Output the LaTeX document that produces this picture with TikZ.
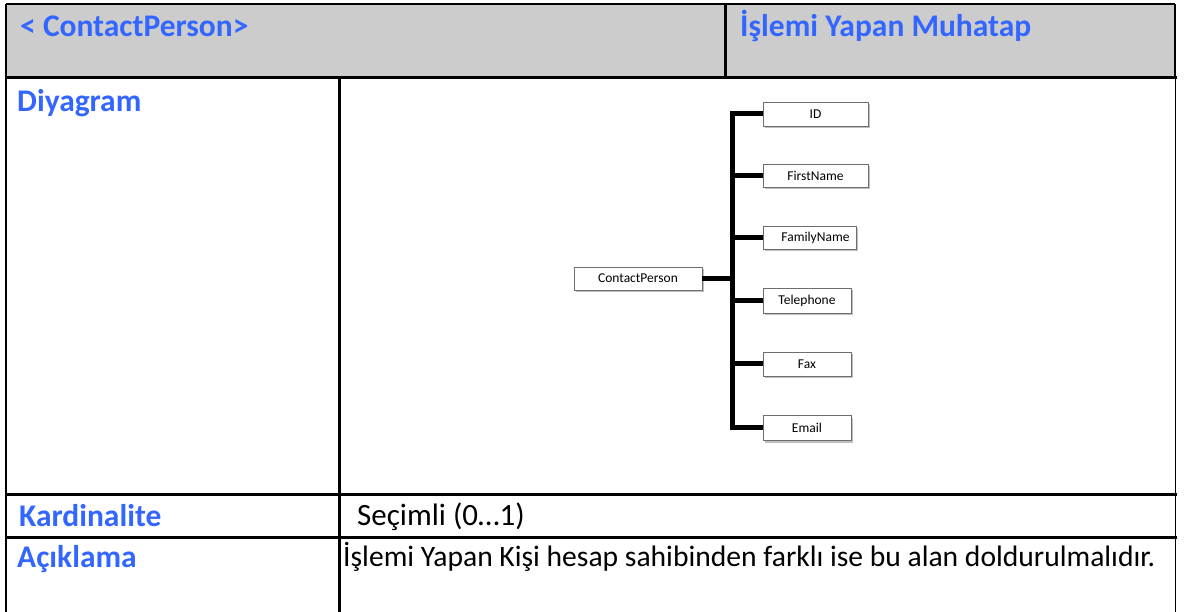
\documentclass[tikz,border=0pt]{standalone}
\usepackage{fontspec}
\setmainfont{Carlito}
\usetikzlibrary{shadows}
\definecolor{hdrgray}{RGB}{204,204,204}
\definecolor{lblblue}{RGB}{51,102,255}
\definecolor{boxline}{RGB}{110,110,110}
\tikzset{
  lbl/.style={anchor=base west, inner sep=0pt, text=lblblue, font=\fontsize{31.5}{36}\selectfont\bfseries},
  val/.style={anchor=base west, inner sep=0pt, text=black, font=\fontsize{31}{36}\selectfont},
  grid/.style={line width=3pt, line cap=rect},
  ebox/.style={draw=boxline, line width=0.8pt, fill=white, inner sep=0pt,
    font=\fontsize{13.5}{16}\selectfont,
    drop shadow={shadow xshift=1.5pt, shadow yshift=-2.5pt, fill=black, opacity=0.25}},
  bus/.style={line width=5pt, line join=miter}
}
\begin{document}
\begin{tikzpicture}[x=1pt,y=-1pt]
\useasboundingbox (0,0) rectangle (1184,612);
% header
\fill[hdrgray] (6,4) rectangle (1175,78);
\draw[line width=1.8pt] (6,4) -- (1175,4);
\draw[line width=1.8pt] (1175,4) -- (1175,78);
\draw[line width=3pt] (725,4) -- (725,78);
\draw[grid] (6,78) -- (1175,78);
% body
\draw[line width=2pt] (6,4) -- (6,612);
\draw[line width=3pt] (339,78) -- (339,612);
\draw[line width=1pt] (1175,78) -- (1175,612);
\draw[grid] (6,494) -- (1175,494);
\draw[grid] (6,537) -- (1175,537);
% texts
\node[lbl] (h1) at (20,37) {< ContactPerson>};
\node[lbl] (h2) at (740,37) {İşlemi Yapan Muhatap};
\node[lbl] (l1) at (17,112) {Diyagram};
\node[lbl] (l2) at (19,526) {Kardinalite};
\node[lbl] (l3) at (17,567) {Açıklama};
\node[val] (v2) at (357,525) {Seçimli (0…1)};
\node[val, font=\fontsize{29.6}{34}\selectfont] (v3) at (343,566) {İşlemi Yapan Kişi hesap sahibinden farklı ise bu alan doldurulmalıdır.};
% diagram
\node[ebox, minimum width=128pt, minimum height=23pt] (cp) at (638,278.5) {ContactPerson};
\node[ebox, minimum width=105pt, minimum height=24pt] (id) at (815.5,114) {ID};
\node[ebox, minimum width=105pt, minimum height=23pt] (fn) at (815.5,175.5) {FirstName};
\node[ebox, minimum width=93pt, minimum height=23pt] (fam) at (809.5,237.5) {\hspace*{12pt}FamilyName};
\node[ebox, minimum width=88pt, minimum height=25pt] (tel) at (807,300.5) {Telephone};
\node[ebox, minimum width=88pt, minimum height=24pt] (fax) at (807,364) {Fax};
\node[ebox, minimum width=88pt, minimum height=25pt] (em) at (807,427.5) {Email};
\coordinate (b) at (732,279);
\draw[bus] (id.west) -- (id.west -| b) -- (em.west -| b) -- (em.west);
\draw[bus] (cp.east) -- (cp.east -| b);
\draw[bus] (fn.west) -- (fn.west -| b);
\draw[bus] (fam.west) -- (fam.west -| b);
\draw[bus] (tel.west) -- (tel.west -| b);
\draw[bus] (fax.west) -- (fax.west -| b);
\end{tikzpicture}
\end{document}
